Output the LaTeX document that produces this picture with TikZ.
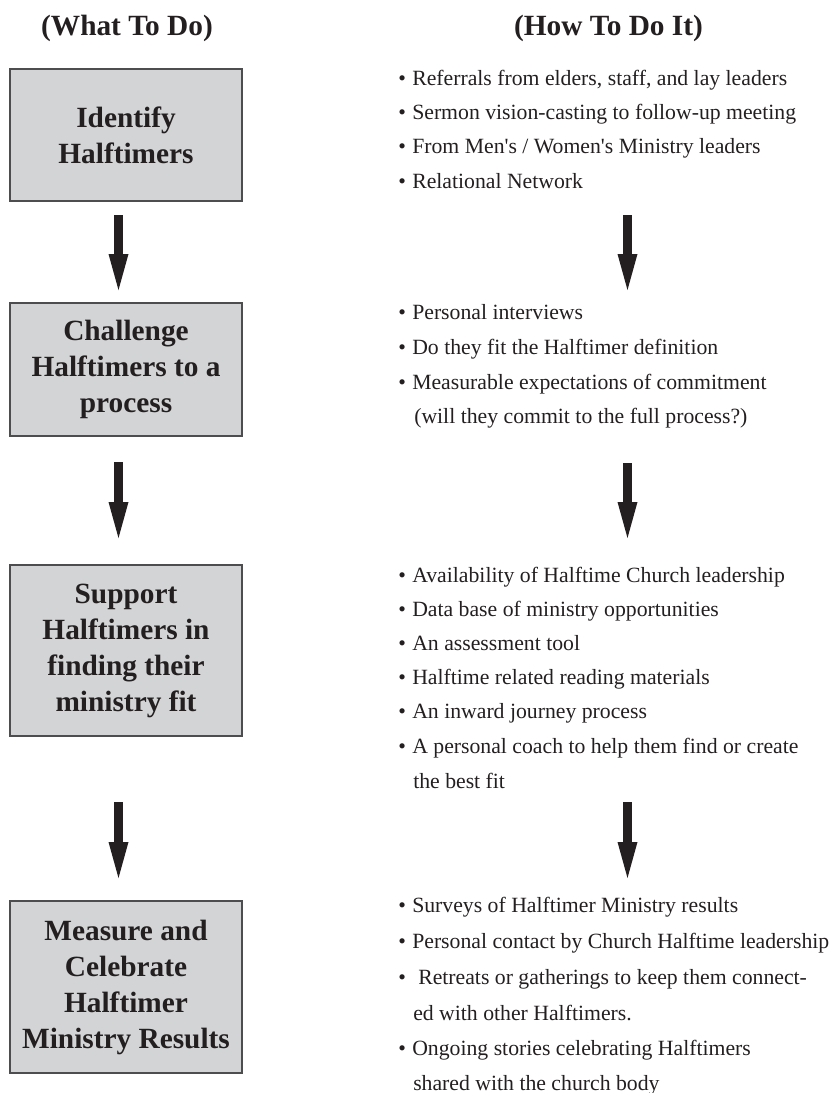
\documentclass[tikz,border=0pt]{standalone}
\usepackage{fontspec}
\setmainfont{Liberation Serif}
\usetikzlibrary{arrows.meta,calc}
\definecolor{ink}{HTML}{231F20}
\definecolor{boxfill}{HTML}{D3D4D6}
\definecolor{boxline}{HTML}{4D4D4F}
\newcommand\bul{\makebox[10.5pt][l]{\textbullet}}
\newcommand\bulw{\makebox[15pt][l]{\textbullet}}
\begin{document}
\begin{tikzpicture}[x=0.75pt,y=-0.75pt,
  stepbox/.style={draw=boxline,line width=1.1pt,fill=boxfill,minimum width=174pt,
    align=center,inner sep=0pt,text=ink,font=\fontsize{22}{27}\selectfont\bfseries},
  heading/.style={anchor=base,text=ink,font=\fontsize{22}{26}\selectfont\bfseries,inner sep=0pt},
  item/.style={anchor=base west,text=ink,font=\fontsize{16.3}{20}\selectfont,inner sep=0pt},
  bigarrow/.style={draw=ink,line width=6.75pt,-{Triangle[width=15pt,length=27pt,line width=0pt]}}]
\useasboundingbox (0,0) rectangle (830,1093);

% headings
\node[heading] (h1) at (127,35) {(What To Do)};
\node[heading] (h2) at (608.5,35) {(How To Do It)};

% boxes
\node[stepbox,minimum height=99pt] (b1) at (126,135) {Identify\\Halftimers};
\node[stepbox,minimum height=99.75pt] (b2) at (126,369.5) {Challenge\\Halftimers to a\\process};
\node[stepbox,minimum height=128.25pt] (b3) at (126,650.5) {Support\\Halftimers in\\finding their\\ministry fit};
\node[stepbox,minimum height=129pt] (b4) at (126,987) {Measure and\\Celebrate\\Halftimer\\Ministry Results};

% block 1
\node[item] (r1a) at (398,85) {\bul Referrals from elders, staff, and lay leaders};
\node[item] (r1b) at (398,119) {\bul Sermon vision-casting to follow-up meeting};
\node[item] (r1c) at (398,153.5) {\bul From Men\textquotesingle s / Women\textquotesingle s Ministry leaders};
\node[item] (r1d) at (398,188) {\bul Relational Network};

% block 2
\node[item] (r2a) at (398,319) {\bul Personal interviews};
\node[item] (r2b) at (398,354) {\bul Do they fit the Halftimer definition};
\node[item] (r2c) at (398,389) {\bul Measurable expectations of commitment};
\node[item] (r2d) at (414,423) {(will they commit to the full process?)};

% block 3
\node[item] (r3a) at (398,582) {\bul Availability of Halftime Church leadership};
\node[item] (r3b) at (398,616) {\bul Data base of ministry opportunities};
\node[item] (r3c) at (398,650) {\bul An assessment tool};
\node[item] (r3d) at (398,684) {\bul Halftime related reading materials};
\node[item] (r3e) at (398,718) {\bul An inward journey process};
\node[item] (r3f) at (398,753) {\bul A personal coach to help them find or create};
\node[item] (r3g) at (413,788) {the best fit};

% block 4
\node[item] (r4a) at (398,912) {\bul Surveys of Halftimer Ministry results};
\node[item] (r4b) at (398,948) {\bul Personal contact by Church Halftime leadership};
\node[item] (r4c) at (398,984) {\bulw Retreats or gatherings to keep them connect-};
\node[item] (r4d) at (413,1020) {ed with other Halftimers.};
\node[item] (r4e) at (398,1055) {\bul Ongoing stories celebrating Halftimers};
\node[item] (r4f) at (413,1090) {shared with the church body};

% arrow end points
\coordinate (l1s) at (118.5,215);  \coordinate (l1e) at (118.5,290);
\coordinate (l2s) at (118.5,462);  \coordinate (l2e) at (118.5,538);
\coordinate (l3s) at (118.5,802);  \coordinate (l3e) at (118.5,878);
\coordinate (ra1s) at (627.5,215); \coordinate (ra1e) at (627.5,290);
\coordinate (ra2s) at (627.5,463); \coordinate (ra2e) at (627.5,538);
\coordinate (ra3s) at (627.5,802); \coordinate (ra3e) at (627.5,878);

\draw[bigarrow] (l1s) -- (l1e);
\draw[bigarrow] (l2s) -- (l2e);
\draw[bigarrow] (l3s) -- (l3e);
\draw[bigarrow] (ra1s) -- (ra1e);
\draw[bigarrow] (ra2s) -- (ra2e);
\draw[bigarrow] (ra3s) -- (ra3e);
\end{tikzpicture}
\end{document}
